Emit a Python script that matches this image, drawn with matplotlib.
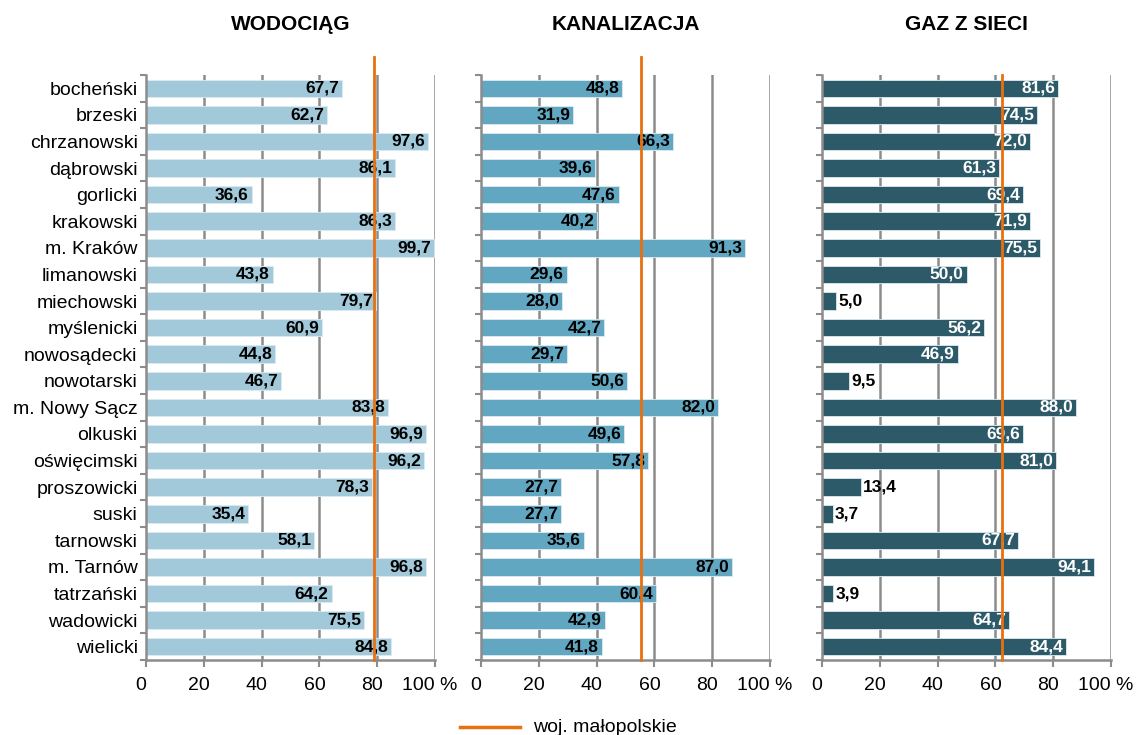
import matplotlib
matplotlib.use("Agg")
import matplotlib.pyplot as plt
import matplotlib.transforms as mtransforms
from matplotlib.lines import Line2D
import numpy as np

plt.rcParams["font.family"] = ["Liberation Sans", "DejaVu Sans"]

DISTRICTS = [
    "bocheński", "brzeski", "chrzanowski", "dąbrowski", "gorlicki", "krakowski",
    "m. Kraków", "limanowski", "miechowski", "myślenicki", "nowosądecki",
    "nowotarski", "m. Nowy Sącz", "olkuski", "oświęcimski", "proszowicki",
    "suski", "tarnowski", "m. Tarnów", "tatrzański", "wadowicki", "wielicki",
]
WATER = [67.7, 62.7, 97.6, 86.1, 36.6, 86.3, 99.7, 43.8, 79.7, 60.9, 44.8,
         46.7, 83.8, 96.9, 96.2, 78.3, 35.4, 58.1, 96.8, 64.2, 75.5, 84.8]
SEWER = [48.8, 31.9, 66.3, 39.6, 47.6, 40.2, 91.3, 29.6, 28.0, 42.7, 29.7,
         50.6, 82.0, 49.6, 57.8, 27.7, 27.7, 35.6, 87.0, 60.4, 42.9, 41.8]
GAS = [81.6, 74.5, 72.0, 61.3, 69.4, 71.9, 75.5, 50.0, 5.0, 56.2, 46.9,
       9.5, 88.0, 69.6, 81.0, 13.4, 3.7, 67.7, 94.1, 3.9, 64.7, 84.4]
REGION_AVG = [78.9, 55.5, 62.4]
TITLES = ["WODOCIĄG", "KANALIZACJA", "GAZ Z SIECI"]
X_TICKS = [0, 20, 40, 60, 80, 100]
X_LABELS = ["0", "20", "40", "60", "80", "100 %"]

BAR_COLORS = ["#A1C9D9", "#62A7C1", "#2D5A69"]
TEXT_COLORS = ["black", "black", "white"]
GRID = "#8C8C8C"
ORANGE = "#E8700F"

W, H = 1147, 735
fig = plt.figure(figsize=(W / 100, H / 100), dpi=100)

lefts = [146, 481, 822]
panel_w = 289
top, bottom = 75, 660

y = np.arange(len(DISTRICTS))
for i, (vals, title) in enumerate(zip([WATER, SEWER, GAS], TITLES)):
    ax = fig.add_axes([lefts[i] / W, 1 - bottom / H, panel_w / W, (bottom - top) / H])
    ax.set_xlim(0, 100)
    ax.set_ylim(len(DISTRICTS) - 0.5, -0.5)

    for g in X_TICKS[1:]:
        ax.axvline(g, color=GRID, lw=1.8, zorder=1)

    ax.barh(y, vals, height=0.66, color=BAR_COLORS[i], edgecolor="#DDEBF0",
            linewidth=0.6, zorder=2)

    for yi, v in zip(y, vals):
        label = f"{v:.1f}".replace(".", ",")
        if v < 15:
            ax.text(v + 0.8, yi, label, ha="left", va="center", fontsize=12.5,
                    fontweight="bold", color="black", zorder=4)
        else:
            ax.text(v - 1.0, yi, label, ha="right", va="center", fontsize=12.5,
                    fontweight="bold", color=TEXT_COLORS[i], zorder=4)

    ax.axvline(REGION_AVG[i], ymin=0, ymax=1.0 if i == 2 else 1.03,
               color=ORANGE, lw=2, zorder=5, clip_on=False)

    for s in ["top", "right"]:
        ax.spines[s].set_visible(False)
    for s in ["left", "bottom"]:
        ax.spines[s].set_color(GRID)
        ax.spines[s].set_linewidth(1.8)
        ax.spines[s].set_zorder(3)

    ax.set_xticks(X_TICKS)
    ax.set_xticklabels(X_LABELS, fontsize=14)
    ax.tick_params(axis="x", length=5, width=1.5, color=GRID, pad=7)
    offset = mtransforms.ScaledTranslation(-5 / 100, 0, fig.dpi_scale_trans)
    for lbl in ax.get_xticklabels():
        lbl.set_transform(lbl.get_transform() + offset)

    ax.set_yticks(y)
    ax.set_yticks(np.arange(-0.5, len(DISTRICTS), 1), minor=True)
    ax.tick_params(axis="y", which="major", length=0, pad=6)
    ax.tick_params(axis="y", which="minor", length=4, width=1.5, color=GRID)
    if i == 0:
        ax.set_yticklabels(DISTRICTS, fontsize=14)
    else:
        ax.set_yticklabels([])

    fig.text((lefts[i] + panel_w / 2) / W, 1 - 25 / H, title, ha="center",
             va="center", fontsize=15, fontweight="bold")

# legend
fig.add_artist(Line2D([460 / W, 520 / W], [1 - 727 / H, 1 - 727 / H],
                      color=ORANGE, lw=2.5))
fig.text(533 / W, 1 - 727 / H, "woj. małopolskie", ha="left", va="center",
         fontsize=14)

fig.savefig("out.png", dpi=100)
